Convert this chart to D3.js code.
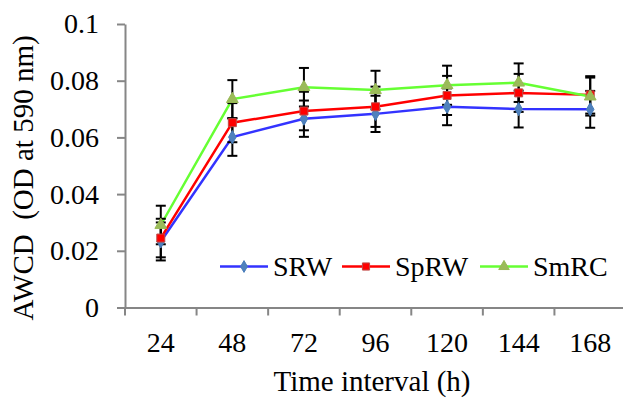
<!DOCTYPE html>
<html>
<head>
<meta charset="utf-8">
<script src="https://cdn.jsdelivr.net/npm/d3@7/dist/d3.min.js"></script>
<style>
  body { margin: 0; background: #fff; }
  svg { display: block; font-family: "Liberation Serif", "Times New Roman", serif; }
</style>
</head>
<body>
<svg id="chart" width="623" height="398"></svg>
<script>
const hours = ['24', '48', '72', '96', '120', '144', '168'];
const yTicks = [0, 0.02, 0.04, 0.06, 0.08, 0.1];

const seriesNames = ['SRW', 'SpRW', 'SmRC'];
const srw  = [0.0233, 0.0601, 0.0666, 0.0683, 0.0708, 0.0700, 0.0699];
const sprw = [0.0245, 0.0652, 0.0693, 0.0708, 0.0748, 0.0757, 0.0750];
const smrc = [0.0291, 0.0735, 0.0777, 0.0767, 0.0784, 0.0793, 0.0744];
const srwErr  = [0.0067, 0.0066, 0.0064, 0.0064, 0.0065, 0.0065, 0.0065];
const sprwErr = [0.0068, 0.0069, 0.0068, 0.0071, 0.0069, 0.0067, 0.0066];
const smrcErr = [0.0068, 0.0067, 0.0068, 0.0068, 0.0069, 0.0068, 0.0067];

const svg = d3.select('#chart');

const x = d3.scaleBand().domain(hours).range([125, 626]);
const y = d3.scaleLinear().domain([0, 0.1]).range([307.5, 24]);
const cx = d => x(d) + x.bandwidth() / 2;

const series = [
  { name: seriesNames[0], values: srw, err: srwErr, line: '#3333ff', fill: '#4f81bd', stroke: '#4a7ebb', shape: d3.symbolDiamond, size: 50 },
  { name: seriesNames[1], values: sprw, err: sprwErr, line: '#ff0000', fill: '#ff0000', stroke: '#be4b48', shape: d3.symbolSquare, size: 64 },
  { name: seriesNames[2], values: smrc, err: smrcErr, line: '#66ff33', fill: '#9bbb59', stroke: '#98b954', shape: d3.symbolTriangle, size: 60 }
];

// Y axis
const yAxis = svg.append('g')
  .attr('transform', 'translate(125,0)')
  .call(d3.axisLeft(y).tickValues(yTicks).tickSize(8).tickSizeOuter(0).tickPadding(18)
    .tickFormat(d => d === 0 ? '0' : String(d)));
yAxis.select('.domain').attr('stroke', '#868686').attr('stroke-width', 2);
yAxis.selectAll('.tick line').attr('stroke', '#868686').attr('stroke-width', 2);
yAxis.selectAll('text').attr('font-size', 28).attr('font-family', '"Liberation Serif", serif').attr('fill', '#000');

// X axis
const xAxis = svg.append('g')
  .attr('transform', `translate(0,${y(0)})`)
  .call(d3.axisBottom(x).tickSize(0).tickPadding(25));
xAxis.select('.domain').attr('stroke', '#868686').attr('stroke-width', 2);
xAxis.selectAll('text').attr('font-size', 28).attr('font-family', '"Liberation Serif", serif').attr('fill', '#000');
xAxis.selectAll('.edge')
  .data(hours.concat(['end']))
  .enter().append('line')
  .attr('x1', d => d === 'end' ? x.range()[1] : x(d))
  .attr('x2', d => d === 'end' ? x.range()[1] : x(d))
  .attr('y1', 0).attr('y2', 8)
  .attr('stroke', '#868686').attr('stroke-width', 2);

// Axis titles
svg.append('text')
  .attr('x', 372).attr('y', 391)
  .attr('text-anchor', 'middle')
  .attr('font-size', 29)
  .text('Time interval (h)');

svg.append('text')
  .attr('transform', 'translate(33,178) rotate(-90)')
  .attr('text-anchor', 'middle')
  .attr('font-size', 29)
  .style('white-space', 'pre')
  .text('AWCD  (OD at 590 nm)');

// Lines
const line = d3.line().x((d, i) => cx(hours[i])).y(d => y(d));
series.forEach(s => {
  svg.append('path')
    .datum(s.values)
    .attr('d', line)
    .attr('fill', 'none')
    .attr('stroke', s.line)
    .attr('stroke-width', 2.5);
});

// Error bars
series.forEach(s => {
  const g = svg.append('g').attr('stroke', '#000').attr('stroke-width', 2);
  s.values.forEach((v, i) => {
    const px = cx(hours[i]);
    const lo = y(v - s.err[i]), hi = y(v + s.err[i]);
    g.append('line').attr('x1', px).attr('x2', px).attr('y1', lo).attr('y2', hi);
    g.append('line').attr('x1', px - 5).attr('x2', px + 5).attr('y1', lo).attr('y2', lo);
    g.append('line').attr('x1', px - 5).attr('x2', px + 5).attr('y1', hi).attr('y2', hi);
  });
});

// Markers
series.forEach(s => {
  svg.append('g').selectAll('path')
    .data(s.values)
    .enter().append('path')
    .attr('transform', (d, i) => `translate(${cx(hours[i])},${y(d)})`)
    .attr('d', d3.symbol().type(s.shape).size(s.size))
    .attr('fill', s.fill)
    .attr('stroke', s.stroke)
    .attr('stroke-width', 1);
});

// Legend
const legendX = [220, 342, 480];
const legend = svg.append('g');
series.forEach((s, i) => {
  const lx = legendX[i];
  legend.append('line')
    .attr('x1', lx).attr('x2', lx + 48)
    .attr('y1', 266.5).attr('y2', 266.5)
    .attr('stroke', s.line).attr('stroke-width', 2.5);
  legend.append('path')
    .attr('transform', `translate(${lx + 24},266.5)`)
    .attr('d', d3.symbol().type(s.shape).size(s.size * 0.8))
    .attr('fill', s.fill).attr('stroke', s.stroke);
  legend.append('text')
    .attr('x', lx + 53).attr('y', 276)
    .attr('font-size', 28)
    .text(s.name);
});
</script>
</body>
</html>
